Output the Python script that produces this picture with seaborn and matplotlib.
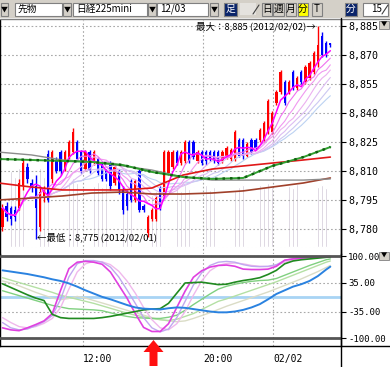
import matplotlib
matplotlib.use("Agg")
import matplotlib.pyplot as plt
from matplotlib.patches import Rectangle, Polygon
import numpy as np
import pandas as pd
import seaborn as sns

# ---- data (15 min bars, 日経225mini) ----
OPEN = [8781, 8792, 8791, 8790, 8791, 8802, 8812, 8804, 8802, 8781, 8796, 8819,
        8806, 8815, 8820, 8811, 8817, 8820, 8825, 8820, 8811, 8820, 8814, 8816,
        8814, 8810, 8814, 8804, 8810, 8800, 8798, 8805, 8795, 8810, 8792, 8778,
        8785, 8785, 8801, 8797, 8809, 8812, 8820, 8814, 8815, 8825, 8825, 8815,
        8820, 8820, 8820, 8820, 8820, 8815, 8817, 8816, 8816, 8826, 8826, 8818,
        8826, 8826, 8826, 8826, 8830, 8830, 8845, 8851, 8856, 8851, 8861, 8853,
        8861, 8856, 8858, 8861, 8866, 8880, 8876, 8876]
CLOSE = [8791, 8786, 8785, 8786, 8804, 8814, 8806, 8801, 8791, 8799, 8800, 8795,
         8820, 8810, 8810, 8820, 8825, 8830, 8816, 8810, 8820, 8810, 8820, 8809,
         8806, 8806, 8802, 8812, 8800, 8790, 8792, 8795, 8805, 8790, 8790, 8786,
         8790, 8796, 8791, 8820, 8820, 8820, 8814, 8820, 8825, 8815, 8817, 8820,
         8814, 8815, 8816, 8815, 8814, 8820, 8822, 8821, 8830, 8818, 8818, 8824,
         8820, 8822, 8831, 8835, 8846, 8840, 8851, 8861, 8845, 8856, 8853, 8858,
         8856, 8864, 8866, 8871, 8875, 8870, 8870, 8875]
HIGH = [8793, 8794, 8792, 8792, 8806, 8816, 8814, 8806, 8808, 8801, 8802, 8821,
        8821, 8817, 8821, 8821, 8826, 8832, 8826, 8821, 8821, 8821, 8821, 8817,
        8815, 8811, 8815, 8813, 8811, 8802, 8800, 8806, 8806, 8811, 8793, 8787,
        8791, 8797, 8802, 8821, 8821, 8821, 8821, 8821, 8826, 8826, 8826, 8821,
        8821, 8821, 8821, 8821, 8821, 8821, 8823, 8822, 8831, 8827, 8827, 8825,
        8827, 8827, 8832, 8836, 8847, 8841, 8852, 8862, 8857, 8857, 8862, 8859,
        8862, 8865, 8867, 8872, 8885, 8882, 8877, 8876]
LOW = [8779, 8784, 8782, 8784, 8790, 8800, 8804, 8799, 8775, 8779, 8794, 8794,
       8804, 8809, 8808, 8810, 8816, 8819, 8815, 8809, 8810, 8809, 8813, 8808,
       8805, 8805, 8800, 8803, 8798, 8788, 8790, 8794, 8794, 8789, 8789, 8776,
       8784, 8784, 8790, 8796, 8808, 8811, 8813, 8813, 8814, 8814, 8816, 8814,
       8813, 8813, 8815, 8814, 8813, 8814, 8816, 8815, 8815, 8817, 8816, 8817,
       8819, 8821, 8825, 8825, 8829, 8829, 8844, 8850, 8844, 8850, 8852, 8852,
       8855, 8855, 8857, 8860, 8864, 8869, 8869, 8874]
VOLUME = [780, 720, 760, 700, 790, 740, 770, 720, 760, 790, 700, 740,
          680, 720, 660, 700, 650, 690, 640, 680, 620, 660, 610, 650,
          600, 640, 590, 620, 560, 600, 540, 580, 520, 560, 500, 540,
          520, 560, 600, 580, 620, 570, 600, 560, 620, 580, 600, 560,
          590, 620, 570, 600, 560, 580, 620, 590, 560, 600, 620, 580,
          600, 560, 620, 590, 640, 600, 620, 580, 640, 610, 590, 630,
          600, 620, 580, 640, 600, 620, 590, 630]

RIBBON_WINDOWS = [5, 8, 11, 14, 17, 20, 23]

# long moving averages, read at these bar positions
MA_IDX = [-1, 7, 14.5, 21.5, 29, 36, 43.5, 50.5, 58, 65, 72.5, 79]
MA_GRAY = [8819.8, 8818.3, 8815.7, 8814.7, 8812.6, 8810.5, 8806.9, 8805.3, 8805.3, 8805.3, 8805.3, 8805.9]
MA_GREEN = [8816.2, 8815.7, 8815.2, 8814.7, 8813.1, 8809.5, 8806.9, 8805.9, 8806.4, 8812.6, 8817.2, 8822.4]
MA_RED = [8803.8, 8801.7, 8800.2, 8800.2, 8800.2, 8801.2, 8807.9, 8811.0, 8812.6, 8814.1, 8815.7, 8817.2]
MA_BROWN = [8795.0, 8796.0, 8797.1, 8798.6, 8799.1, 8798.1, 8798.1, 8798.6, 8799.7, 8801.7, 8803.8, 8806.4]

# oscillators, read every second bar
OSC_IDX = [0, 2, 4, 6, 8, 10, 12, 14, 16, 18, 20, 22, 24, 26, 28, 30, 32, 34, 36, 38,
           40, 42, 44, 46, 48, 50, 52, 54, 56, 58, 60, 62, 64, 66, 68, 70, 72, 74, 76, 78, 79]
OSC_MAGENTA = [-75, -80, -82, -75, -67, -58, -40, 17, 70, 86, 88, 86, 81, 62, 30, -2, -40, -74, -84, -84,
               -65, -25, 15, 49, 65, 74, 78, 79, 76, 69, 68, 68, 69, 76, 91, 94, 96, 98, 99, 100, 100]
OSC_LAVENDER = [-62, -75, -80, -78, -70, -60, -45, -5, 50, 82, 90, 90, 86, 74, 50, 18, -15, -50, -75, -85,
                -78, -50, -10, 30, 60, 78, 86, 88, 86, 80, 76, 75, 76, 80, 90, 95, 97, 98, 99, 100, 100]
OSC_PINK = [-50, -62, -72, -75, -72, -64, -52, -25, 20, 62, 82, 88, 87, 80, 64, 40, 10, -25, -55, -75,
            -80, -65, -35, 5, 40, 65, 78, 83, 84, 82, 78, 76, 75, 78, 86, 92, 95, 97, 98, 99, 100]
OSC_BLUE = [66, 63, 60, 57, 53, 49, 44, 40, 34, 26, 17, 9, 1, -5, -12, -19, -25, -28, -29, -30,
            -27, -25, -26, -29, -32, -35, -37, -37, -35, -31, -25, -17, -5, 8, 17, 26, 32, 40, 52, 68, 75]
OSC_DKGREEN = [33, 24, 15, 6, -2, -8, -42, -50, -52, -52, -52, -52, -50, -47, -43, -39, -35, -31, -29, -28,
               -15, 10, 35, 36, 37, 34, 31, 32, 37, 41, 44, 48, 56, 66, 82, 89, 92, 94, 96, 98, 99]
OSC_LTGREEN = [16, 10, 4, -2, -8, -14, -20, -24, -28, -29, -30, -31, -33, -38, -43, -47, -50, -51, -52, -52,
               -49, -44, -32, -18, -5, 8, 20, 27, 32, 36, 39, 41, 42, 46, 54, 62, 70, 78, 85, 92, 94]
OSC_PALEGREEN = [48, 42, 36, 30, 24, 18, 12, 5, 0, -5, -10, -15, -21, -27, -33, -39, -44, -48, -52, -55,
                 -57, -54, -47, -40, -30, -20, -10, -4, 3, 10, 17, 24, 31, 38, 46, 54, 62, 70, 78, 86, 89]
OSC_BEIGE = [40, 35, 28, 20, 12, 5, -2, -6, -3, 2, -2, -8, -14, -20, -26, -32, -38, -44, -50, -55,
             -58, -60, -58, -52, -45, -38, -30, -22, -15, -8, -1, 6, 13, 21, 29, 37, 45, 54, 63, 73, 78]

PRICE_TICKS = [8780, 8795, 8810, 8825, 8840, 8855, 8870, 8885]
OSC_TICKS = [100, 35, -35, -100]
OSC_LABELS = ["100.00", "35.00", "-35.00", "-100.00"]
TIME_TICKS = [19.4, 48.3, 65.2]
TIME_LABELS = ["12:00", "20:00", "02/02"]

W, H, DPI = 390, 367, 100
MONO = "DejaVu Sans Mono"
JP = ["Noto Sans CJK JP", "DejaVu Sans"]

sns.set_style("white")
plt.rcParams["font.family"] = JP

fig = plt.figure(figsize=(W / DPI, H / DPI), dpi=DPI)
fig.patch.set_facecolor("white")


def px_rect(x0, y0, x1, y1):
    return [x0 / W, 1 - y1 / H, (x1 - x0) / W, (y1 - y0) / H]


ax = fig.add_axes(px_rect(0, 20, 341, 254))
ax2 = fig.add_axes(px_rect(0, 254, 341, 346), sharex=ax)

n = len(CLOSE)
x = np.arange(n)
o = np.array(OPEN, float)
c = np.array(CLOSE, float)
cols = np.where(c > o, "#ff0000", "#0000ff")

# volume (own scale, behind the candles)
axv = ax.twinx()
axv.bar(x, VOLUME, width=0.36, color="#cbc2d2", zorder=1)
axv.set_ylim(-70, 2270)
axv.axis("off")
ax.set_zorder(axv.get_zorder() + 1)
ax.patch.set_visible(False)

# candles
ax.vlines(x, LOW, HIGH, colors=cols, lw=1, zorder=3)
body = np.maximum(np.abs(c - o), 0.6)
ax.bar(x, body, bottom=np.minimum(o, c), width=0.55, color=cols, lw=0, zorder=3)

# short moving-average ribbon
closes = pd.Series(c)
rib_cols = ["#ff00ff", "#f070f0", "#f098f0", "#ecb0f0", "#dcbcf2", "#ccc8f2", "#bcd2f2"]
for wnd, col in zip(RIBBON_WINDOWS[::-1], rib_cols[::-1]):
    ma = closes.rolling(wnd, min_periods=1).mean()
    sns.lineplot(x=x, y=ma.values, ax=ax, color=col, lw=1.1 if wnd == 5 else 0.8,
                 estimator=None, sort=False, legend=False, zorder=4)

# long moving averages
sns.lineplot(x=MA_IDX, y=MA_BROWN, ax=ax, color="#a0402a", lw=1.2, estimator=None, legend=False, zorder=4)
sns.lineplot(x=MA_IDX, y=MA_GRAY, ax=ax, color="#8c8c8c", lw=1.0, estimator=None, legend=False, zorder=4)
sns.lineplot(x=MA_IDX, y=MA_RED, ax=ax, color="#e01818", lw=1.2, estimator=None, legend=False, zorder=4)
sns.lineplot(x=MA_IDX, y=MA_GREEN, ax=ax, color="#30a030", lw=1.4, estimator=None, legend=False, zorder=5)
ax.plot(MA_IDX, MA_GREEN, color="#106010", lw=1.8, ls=(0, (1, 2)), zorder=5)

ax.set_xlim(-0.6, 81.57)
ax.set_ylim(8767.07, 8888.1)
ax.yaxis.tick_right()
ax.set_yticks(PRICE_TICKS)
ax.set_yticklabels([f"{v:,}" for v in PRICE_TICKS], fontfamily=MONO)
ax.set_xticks(TIME_TICKS)
ax.tick_params(axis="x", length=0, labelbottom=False)
ax.tick_params(axis="y", length=3.6, width=0.8, colors="black", labelsize=7.2, pad=1.5)
ax.grid(True, color="#a8a8a8", linestyle=(0, (1.5, 2)), lw=0.8)
ax.set_axisbelow(True)
for s in ["top", "bottom"]:
    ax.spines[s].set_visible(False)
for s in ["left", "right"]:
    ax.spines[s].set_color("black")
    ax.spines[s].set_linewidth(1)

ax.text(75.6, 8885, "最大：8,885 (2012/02/02)→", ha="right", va="center", fontsize=6.8,
        color="black", zorder=6)
ax.text(8.2, 8775.8, "←最低：8,775 (2012/02/01)", ha="left", va="center", fontsize=6.8,
        color="black", zorder=6)

# oscillator panel
ax2.axhline(0, color="#a8d4f4", lw=2, zorder=2)
osc = [
    (OSC_BEIGE, "#dadcc6", 1.0),
    (OSC_PALEGREEN, "#b4e0a4", 1.0),
    (OSC_LTGREEN, "#80d080", 1.0),
    (OSC_PINK, "#f0b8ec", 1.0),
    (OSC_LAVENDER, "#c0a8f0", 1.0),
    (OSC_MAGENTA, "#e040e0", 1.2),
    (OSC_DKGREEN, "#208a20", 1.2),
    (OSC_BLUE, "#2a82e0", 1.4),
]
for vals, col, lw in osc:
    sns.lineplot(x=OSC_IDX, y=vals, ax=ax2, color=col, lw=lw, estimator=None,
                 legend=False, zorder=3)
ax2.axhline(100, color="#555555", lw=2, zorder=4)
ax2.axhline(-100, color="#555555", lw=2, zorder=4)
ax2.set_ylim(-119.6, 106.1)
ax2.yaxis.tick_right()
ax2.set_yticks(OSC_TICKS)
ax2.set_yticklabels(OSC_LABELS, fontfamily=MONO)
ax2.set_xticks(TIME_TICKS)
ax2.set_xticklabels(TIME_LABELS, fontfamily=MONO)
for lab in ax2.get_xticklabels():
    lab.set_ha("left")
ax2.tick_params(axis="y", length=3.6, width=0.8, colors="black", labelsize=6.5, pad=1.5)
ax2.tick_params(axis="x", length=3.6, width=0.8, colors="black", labelsize=7, pad=2.5)
ax2.grid(True, color="#a8a8a8", linestyle=(0, (1.5, 2)), lw=0.8)
ax2.set_axisbelow(True)
ax2.spines["top"].set_visible(False)
for s in ["left", "right", "bottom"]:
    ax2.spines[s].set_color("black")
    ax2.spines[s].set_linewidth(1)

# frame, toolbar and overlay arrow in pixel coords
ov = fig.add_axes([0, 0, 1, 1], zorder=10)
ov.set_xlim(0, W)
ov.set_ylim(H, 0)
ov.axis("off")
ov.patch.set_visible(False)

ov.add_patch(Rectangle((0, 0), W, 18, color="#d4d0c8", lw=0))
ov.plot([0, W], [18.5, 18.5], color="#808080", lw=1)
ov.plot([341, 341], [18, H], color="black", lw=1)
ov.plot([341, W], [346, 346], color="black", lw=1)


def button(x0, x1, label="", face="#d4d0c8", tc="black", fs=7):
    ov.add_patch(Rectangle((x0, 2.5), x1 - x0, 13, facecolor=face, edgecolor="#808080", lw=0.8))
    if label:
        ov.text((x0 + x1) / 2, 9.2, label, ha="center", va="center", fontsize=fs, color=tc)


def field(x0, x1, label):
    ov.add_patch(Rectangle((x0, 2.5), x1 - x0, 13, facecolor="white", edgecolor="#808080", lw=0.8))
    ov.text(x0 + 3, 9.2, label, ha="left", va="center", fontsize=7, color="black")


button(1, 8, "▼", fs=5)
field(15, 62, "先物")
button(63, 71, "▼", fs=5)
field(73, 147, "日経225mini")
button(148, 156, "▼", fs=5)
field(157, 208, "12/03")
button(210, 218, "▼", fs=5)
button(224, 237, "足", face="#0a246a", tc="white")
ov.add_patch(Rectangle((240, 3), 16, 12, facecolor="#e4e2de", edgecolor="none"))
ov.plot([253, 259], [14, 5], color="#404040", lw=0.8)
button(262, 272, "日")
button(273, 284, "週")
button(286, 296, "月")
button(298, 308, "分", face="#ffff00")
button(312, 322, "T")
button(345, 357, "分", face="#0a246a", tc="white")
field(363, 388, "")
ov.text(382, 9.2, "15", ha="right", va="center", fontsize=7, color="black")
ov.plot([382, 388], [14, 5], color="#404040", lw=0.8)

for yb in (20.5, 251.5):
    ov.add_patch(Rectangle((379, yb), 10, 8, facecolor="#d4d0c8", edgecolor="#808080", lw=0.6))
    ov.text(384, yb + 4, "▼", ha="center", va="center", fontsize=4.5, color="black")

ov.add_patch(Polygon([(153.5, 340), (163.5, 352), (157.5, 352), (157.5, 366),
                      (149.5, 366), (149.5, 352), (143.5, 352)],
                     closed=True, facecolor="#ff1010", edgecolor="none"))

fig.savefig("out.png", dpi=DPI, facecolor=fig.get_facecolor())
